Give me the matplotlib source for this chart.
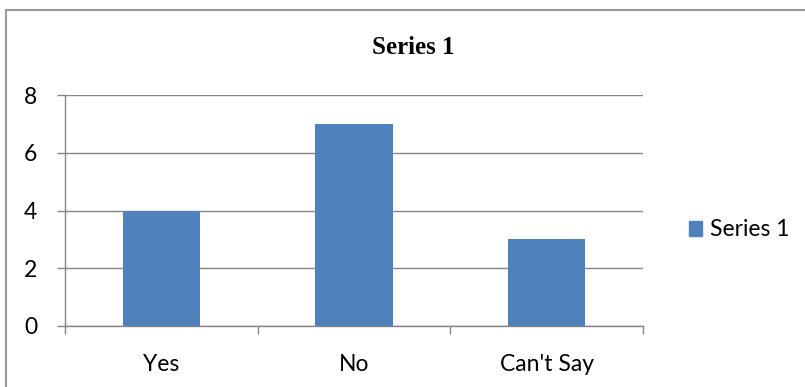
import matplotlib
matplotlib.use("Agg")
import matplotlib.pyplot as plt
from matplotlib.lines import Line2D
from matplotlib.patches import Patch
import numpy as np

categories = ["Yes", "No", "Can't Say"]
values = [4, 7, 3]
yticks = [0, 2, 4, 6, 8]
series_name = "Series 1"

BAR = "#4F81BD"
GRID = "#868686"
FONT = "Lato"

W, H = 805, 387
fig = plt.figure(figsize=(W / 100, H / 100), dpi=100)
ax = fig.add_axes([65 / W, 1 - 326 / H, (643 - 65) / W, (326 - 95) / H])

x = np.arange(len(categories))
ax.bar(x, values, width=0.4, color=BAR, zorder=3)

ax.set_xlim(-0.5, len(categories) - 0.5)
ax.set_ylim(0, 8)
ax.set_yticks(yticks)
ax.yaxis.grid(True, color=GRID, lw=1.0, zorder=0)

for s in ["top", "right"]:
    ax.spines[s].set_visible(False)
for s in ["left", "bottom"]:
    ax.spines[s].set_color(GRID)
    ax.spines[s].set_linewidth(1.0)

# category labels at centres, tick marks at boundaries
ax.set_xticks(x)
ax.set_xticklabels(categories, fontsize=16.5, fontname=FONT)
ax.tick_params(axis="x", length=0, pad=20)
ax.set_xticks(np.arange(len(categories) + 1) - 0.5, minor=True)
ax.tick_params(axis="x", which="minor", length=6, color=GRID, width=1.0)
ax.tick_params(axis="y", length=6, color=GRID, width=1.0, pad=14)
for lab in ax.get_yticklabels():
    lab.set_fontsize(16.5)
    lab.set_fontname(FONT)

fig.text(413 / W, 1 - 47 / H, series_name, ha="center", va="center",
         fontsize=18, fontweight="bold", fontname="Liberation Serif")

handles = [Patch(facecolor=BAR, edgecolor=BAR, label=series_name)]
fig.legend(handles=handles, loc="center left", bbox_to_anchor=(668 / W, 1 - 230 / H),
           frameon=False, prop={"family": FONT, "size": 16.5},
           handlelength=0.6, handleheight=0.6, handletextpad=0.35)

# outer chart border
fig.add_artist(Line2D([6 / W, 6 / W], [0, 1 - 10 / H], color="#9a9a9a", lw=1.5))
fig.add_artist(Line2D([6 / W, 1], [1 - 10 / H, 1 - 10 / H], color="#9a9a9a", lw=1.5))

fig.savefig("out.png", dpi=100)
